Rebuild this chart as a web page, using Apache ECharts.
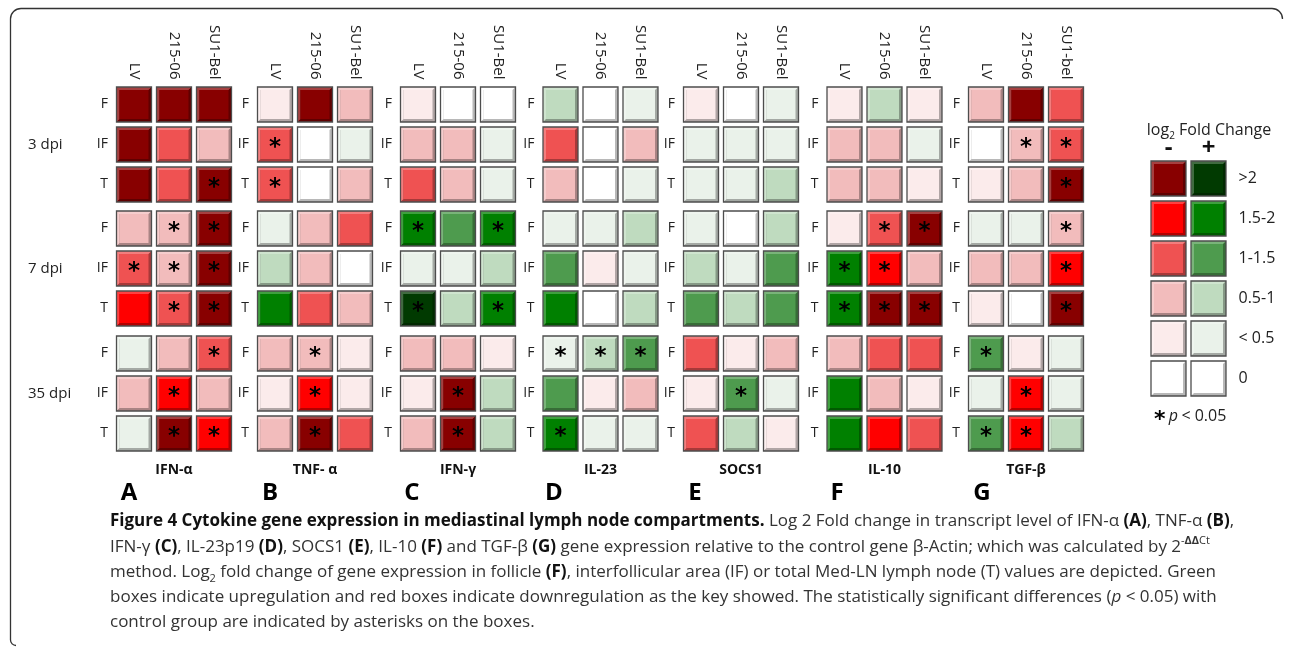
<!DOCTYPE html>
<html><head><meta charset="utf-8">
<script src="https://cdn.jsdelivr.net/npm/echarts/dist/echarts.min.js"></script>
<style>html,body{margin:0;padding:0;background:#fff}#c{width:1292px;height:649px}</style>
</head><body><div id="c"></div>
<script>
// ---------- data ----------
const columnLabels = ['LV', '215-06', 'SU1-Bel'];
const columnLabelsG = ['LV', '215-06', 'SU1-bel'];
const compartments = ['F', 'IF', 'T'];
const timepoints = ['3 dpi', '7 dpi', '35 dpi'];
const cytokines = ['IFN-α', 'TNF- α', 'IFN-γ', 'IL-23', 'SOCS1', 'IL-10', 'TGF-β'];
const panelLetters = ['A', 'B', 'C', 'D', 'E', 'F', 'G'];
const legendRanges = ['>2', '1.5-2', '1-1.5', '0.5-1', '< 0.5', '0'];
const legendSigns = ['-', '+'];
const legendLevels = [5, 4, 3, 2, 1, 0];
// level code: sign = up(+)/down(-) regulation; 1:<0.5, 2:0.5-1, 3:1-1.5, 4:1.5-2, 5:>2, 0: none
// rows: 3dpi F, IF, T, 7dpi F, IF, T, 35dpi F, IF, T ; columns: LV, 215-06, SU1-Bel
const ifnAlpha = [[-5,-5,-5],[-5,-3,-2],[-5,-3,-5],[-2,-2,-5],[-3,-2,-5],[-4,-3,-5],[1,-2,-3],[-2,-4,-2],[1,-5,-4]];
const ifnAlphaSig = [[0,0,0],[0,0,0],[0,0,1],[0,1,1],[1,1,1],[0,1,1],[0,0,1],[0,1,0],[0,1,1]];
const tnfAlpha = [[-1,-5,-2],[-3,0,1],[-3,0,-2],[1,-2,-3],[2,-2,0],[4,-3,-2],[-2,-2,-1],[-1,-4,-1],[-2,-5,-3]];
const tnfAlphaSig = [[0,0,0],[1,0,0],[1,0,0],[0,0,0],[0,0,0],[0,0,0],[0,1,0],[0,1,0],[0,1,0]];
const ifnGamma = [[-1,0,0],[-2,-2,1],[-3,-2,1],[4,3,4],[1,1,2],[5,2,4],[-2,-2,-1],[-1,-5,2],[-2,-5,2]];
const ifnGammaSig = [[0,0,0],[0,0,0],[0,0,0],[1,0,1],[0,0,0],[1,0,1],[0,0,0],[0,1,0],[0,1,0]];
const il23 = [[2,0,1],[-3,0,-2],[-2,0,1],[1,1,2],[3,-1,1],[4,0,2],[1,2,3],[3,-1,-2],[4,1,1]];
const il23Sig = [[0,0,0],[0,0,0],[0,0,0],[0,0,0],[0,0,0],[0,0,0],[1,1,1],[0,0,0],[1,0,0]];
const socs1 = [[-1,0,1],[1,1,1],[1,1,2],[1,0,2],[2,1,3],[3,2,3],[-3,-1,-2],[-1,3,1],[-3,2,-1]];
const socs1Sig = [[0,0,0],[0,0,0],[0,0,0],[0,0,0],[0,0,0],[0,0,0],[0,0,0],[0,1,0],[0,0,0]];
const il10 = [[-1,2,-1],[-2,-2,1],[-2,-2,-1],[-1,-3,-5],[4,-4,-2],[4,-5,-5],[-2,-3,-3],[4,-2,-1],[4,-4,-3]];
const il10Sig = [[0,0,0],[0,0,0],[0,0,0],[0,1,1],[1,1,0],[1,1,1],[0,0,0],[0,0,0],[0,0,0]];
const tgfBeta = [[-2,-5,-3],[0,-2,-3],[-1,-2,-5],[1,1,-2],[-2,-2,-4],[-1,0,-5],[3,-1,1],[1,-4,1],[3,-4,2]];
const tgfBetaSig = [[0,0,0],[0,1,1],[0,0,1],[0,0,1],[0,0,1],[0,0,1],[1,0,0],[0,1,0],[1,1,0]];

const panelValues = [ifnAlpha, tnfAlpha, ifnGamma, il23, socs1, il10, tgfBeta];
const panelSig = [ifnAlphaSig, tnfAlphaSig, ifnGammaSig, il23Sig, socs1Sig, il10Sig, tgfBetaSig];

// ---------- style ----------
const downColors = ['#FFFFFF', '#FBEBEB', '#F2BCBC', '#EF5252', '#FF0000', '#880000'];
const upColors   = ['#FFFFFF', '#EAF2EA', '#BFDBBF', '#4E9B4E', '#008000', '#013A01'];
const FONT = 'Open Sans';

function mix(hex, target, t) {
  const a = parseInt(hex.slice(1), 16), b = parseInt(target.slice(1), 16);
  const r = Math.round(((a >> 16) & 255) * (1 - t) + ((b >> 16) & 255) * t);
  const g = Math.round(((a >> 8) & 255) * (1 - t) + ((b >> 8) & 255) * t);
  const bl = Math.round((a & 255) * (1 - t) + (b & 255) * t);
  return 'rgb(' + r + ',' + g + ',' + bl + ')';
}
function colorFor(lv) { return lv < 0 ? downColors[-lv] : upColors[lv]; }

function renderBox(params, api) {
  const c = api.coord([api.value(0), api.value(1)]);
  const s = api.size([1, 1]);
  const w = s[0] * 0.875, h = s[1] * 0.875;
  const x = c[0] - w / 2, y = c[1] - h / 2;
  const lv = api.value(2);
  const base = colorFor(lv);
  const dark = lv === 0 ? '#b8b8b8' : mix(base, '#000000', 0.3);
  const light = lv === 0 ? '#ffffff' : mix(base, '#ffffff', 0.25);
  const b = 3;
  const children = [
    { type: 'rect', shape: { x: x, y: y, width: w, height: h }, style: { fill: dark } },
    { type: 'polygon', shape: { points: [[x, y], [x + w, y], [x + w - b, y + b], [x + b, y + b], [x + b, y + h - b], [x, y + h]] }, style: { fill: light } },
    { type: 'rect', shape: { x: x + b, y: y + b, width: w - 2 * b, height: h - 2 * b }, style: { fill: base } },
    { type: 'rect', shape: { x: x, y: y, width: w, height: h }, style: { fill: 'none', stroke: '#4d4d4d', lineWidth: 1.3 } }
  ];
  if (api.value(3) === 1) {
    children.push({ type: 'text', style: { x: c[0], y: c[1] + 4, text: '*', fontSize: 23, fontWeight: 'bold', fontFamily: 'DejaVu Sans', fill: '#000', align: 'center', verticalAlign: 'middle' } });
  }
  return { type: 'group', children: children };
}

// ---------- layout ----------
const panelLeft = [114, 255, 398, 540.5, 681, 824.5, 966];
const groupTop = [84.5, 208.5, 333.5];
const grids = [], xAxes = [], yAxes = [], series = [];

panelValues.forEach(function (vals, p) {
  for (let g = 0; g < 3; g++) {
    const idx = grids.length;
    grids.push({ left: panelLeft[p], top: groupTop[g], width: 120, height: 120 });
    xAxes.push({
      type: 'category', gridIndex: idx, position: 'top', data: p === 6 ? columnLabelsG : columnLabels,
      axisLine: { show: false }, axisTick: { show: false }, splitLine: { show: false },
      axisLabel: { show: g === 0, rotate: 90, margin: 5, fontSize: 15, color: '#222', fontFamily: FONT }
    });
    yAxes.push({
      type: 'category', gridIndex: idx, inverse: true, data: compartments,
      axisLine: { show: false }, axisTick: { show: false }, splitLine: { show: false },
      axisLabel: { margin: 6, fontSize: 14, color: '#222', fontFamily: FONT }
    });
    const data = [];
    for (let r = 0; r < 3; r++) {
      for (let col = 0; col < 3; col++) {
        data.push([col, r, vals[g * 3 + r][col], panelSig[p][g * 3 + r][col]]);
      }
    }
    series.push({ type: 'custom', xAxisIndex: idx, yAxisIndex: idx, renderItem: renderBox, data: data, encode: { x: 0, y: 1 }, silent: true });
  }
});

// legend key grid
(function () {
  const idx = grids.length;
  grids.push({ left: 1148.5, top: 158.5, width: 80, height: 240 });
  xAxes.push({
    type: 'category', gridIndex: idx, position: 'top', data: legendSigns,
    axisLine: { show: false }, axisTick: { show: false },
    axisLabel: { margin: -2, fontSize: 24, fontWeight: 'bold', color: '#111', fontFamily: FONT }
  });
  yAxes.push({
    type: 'category', gridIndex: idx, position: 'right', inverse: true, data: legendRanges,
    axisLine: { show: false }, axisTick: { show: false },
    axisLabel: { margin: 10, fontSize: 16, color: '#222', fontFamily: FONT, padding: [4, 0, 0, 0] }
  });
  const data = [];
  legendLevels.forEach(function (lv, r) {
    data.push([0, r, -lv, 0]);
    data.push([1, r, lv, 0]);
  });
  series.push({ type: 'custom', xAxisIndex: idx, yAxisIndex: idx, renderItem: renderBox, data: data, encode: { x: 0, y: 1 }, silent: true });
})();

// ---------- texts ----------
const graphics = [];
const frameStyle = { fill: 'none', stroke: '#333', lineWidth: 1.3 };
graphics.push({ type: 'polyline', shape: { points: [[10.5, 640], [10.5, 19]] }, style: frameStyle });
graphics.push({ type: 'arc', shape: { cx: 21, cy: 19, r: 10.5, startAngle: Math.PI, endAngle: Math.PI * 1.5, clockwise: true }, style: frameStyle });
graphics.push({ type: 'polyline', shape: { points: [[21, 8.5], [1272, 8.5]] }, style: frameStyle });
graphics.push({ type: 'arc', shape: { cx: 1272, cy: 19, r: 10.5, startAngle: Math.PI * 1.5, endAngle: Math.PI * 2, clockwise: true }, style: frameStyle });
graphics.push({ type: 'arc', shape: { cx: 16, cy: 640, r: 5.5, startAngle: Math.PI / 2, endAngle: Math.PI, clockwise: true }, style: frameStyle });

const timeY = [144.5, 268.5, 393.5];
timepoints.forEach(function (t, i) {
  graphics.push({ type: 'text', style: { x: 28, y: timeY[i], text: t, fontSize: 15, fontFamily: FONT, fill: '#222', verticalAlign: 'middle' } });
});
cytokines.forEach(function (c, p) {
  graphics.push({ type: 'text', style: { x: panelLeft[p] + 60, y: 470, text: c, fontSize: 14, fontWeight: 'bold', fontFamily: FONT, fill: '#111', align: 'center', verticalAlign: 'middle' } });
});
const letterX = [129, 270, 412, 554, 695, 837, 982];
panelLetters.forEach(function (l, p) {
  graphics.push({ type: 'text', style: { x: letterX[p], y: 493, text: l, fontSize: 24, fontWeight: 'bold', fontFamily: FONT, fill: '#000', align: 'center', verticalAlign: 'middle' } });
});
graphics.push({ type: 'text', style: { x: 1209, y: 130, text: '{n|log}{s|2}{n| Fold Change}', align: 'center', verticalAlign: 'middle', rich: { n: { fontSize: 16, fontFamily: FONT, fill: '#222', lineHeight: 22, verticalAlign: 'middle' }, s: { fontSize: 10, fontFamily: FONT, fill: '#222', lineHeight: 22, verticalAlign: 'bottom' } } } });
graphics.push({ type: 'text', style: { x: 1154, y: 416, text: '{a|*} {i|p} {n|< 0.05}', verticalAlign: 'middle', rich: { a: { fontSize: 22, fontWeight: 'bold', fontFamily: 'DejaVu Sans', fill: '#000', padding: [9, 0, 0, 0] }, i: { fontSize: 16, fontStyle: 'italic', fontFamily: FONT, fill: '#222' }, n: { fontSize: 16, fontFamily: FONT, fill: '#222' } } } });

const capRich = {
  n: { fontSize: 17, fontFamily: FONT, fill: '#333', lineHeight: 24 },
  b: { fontSize: 17, fontFamily: FONT, fontWeight: 'bold', fill: '#111', lineHeight: 24 },
  i: { fontSize: 17, fontFamily: FONT, fontStyle: 'italic', fill: '#333', lineHeight: 24 },
  sup: { fontSize: 11, fontFamily: FONT, fill: '#333', lineHeight: 24, verticalAlign: 'top' },
  supb: { fontSize: 11, fontFamily: FONT, fontWeight: 'bold', fill: '#333', lineHeight: 24, verticalAlign: 'top' },
  sub: { fontSize: 11, fontFamily: FONT, fill: '#333', lineHeight: 24, verticalAlign: 'bottom' }
};
const captionLines = [
  '{b|Figure 4 Cytokine gene expression in mediastinal lymph node compartments.}{n| Log 2 Fold change in transcript level of IFN-α }{b|(A)}{n|, TNF-α }{b|(B)}{n|,}',
  '{n|IFN-γ }{b|(C)}{n|, IL-23p19 }{b|(D)}{n|, SOCS1 }{b|(E)}{n|, IL-10 }{b|(F)}{n| and TGF-β }{b|(G)}{n| gene expression relative to the control gene β-Actin; which was calculated by 2}{sup|-}{supb|ΔΔ}{sup|Ct}',
  '{n|method. Log}{sub|2}{n| fold change of gene expression in follicle }{b|(F)}{n|, interfollicular area (IF) or total Med-LN lymph node (T) values are depicted. Green}',
  '{n|boxes indicate upregulation and red boxes indicate downregulation as the key showed. The statistically significant differences (}{i|p}{n| < 0.05) with}',
  '{n|control group are indicated by asterisks on the boxes.}'
];
const captionY = [521, 547, 572, 597, 622];
captionLines.forEach(function (t, i) {
  graphics.push({ type: 'text', style: { x: 110, y: captionY[i], text: t, verticalAlign: 'middle', rich: capRich } });
});

const chart = echarts.init(document.getElementById('c'), null, { renderer: 'canvas' });
chart.setOption({
  backgroundColor: '#ffffff',
  animation: false,
  grid: grids, xAxis: xAxes, yAxis: yAxes, series: series,
  graphic: graphics
});
</script></body></html>
